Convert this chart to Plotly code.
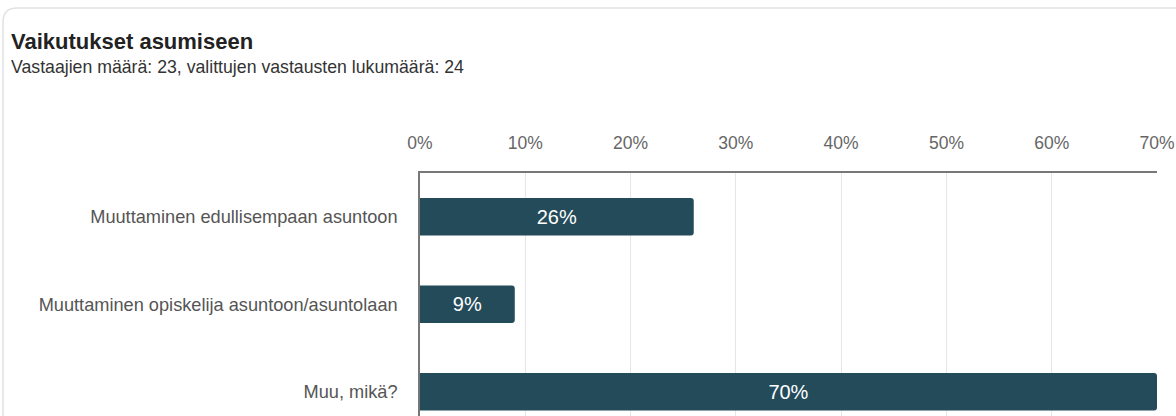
import plotly.graph_objects as go

categories = ["Muuttaminen edullisempaan asuntoon",
              "Muuttaminen opiskelija asuntoon/asuntolaan",
              "Muu, mikä?"]
values = [26, 9, 70]
bar_labels = ["26%", "9%", "70%"]
tick_vals = [0, 10, 20, 30, 40, 50, 60, 70]
tick_text = ["0%", "10%", "20%", "30%", "40%", "50%", "60%", "70%"]
title_text = "Vaikutukset asumiseen"
subtitle_text = "Vastaajien määrä: 23, valittujen vastausten lukumäärä: 24"

W, H = 1176, 416
# target pixel positions in the screenshot
PL, PR, PT = 420, 1157, 173
ML, MR, MT, MB = PL, W - PR, PT, 0
PW, PH = W - ML - MR, H - MT - MB
FONT = "Liberation Sans, Arial, sans-serif"

def px(x):
    return (x - ML) / PW

def py(y):
    return (H - MB - y) / PH

band = 87.5
fig = go.Figure(go.Bar(
    x=values, y=categories, orientation="h",
    marker=dict(color="#234b5a", line=dict(width=0)),
    width=0.43,
    text=bar_labels, textposition="inside", insidetextanchor="middle",
    textfont=dict(color="white", size=20, family=FONT),
    hoverinfo="skip",
))

fig.update_layout(
    width=W, height=H,
    margin=dict(l=ML, r=MR, t=MT, b=MB, pad=0),
    paper_bgcolor="white", plot_bgcolor="white",
    barcornerradius=3,
    showlegend=False,
    font=dict(family=FONT),
    xaxis=dict(range=[0, 70], side="top", tickvals=tick_vals, ticktext=tick_text,
               showgrid=True, gridcolor="#e6e6e6", gridwidth=1,
               zeroline=False, showline=True, linecolor="#777777", linewidth=1.5,
               ticks="", ticklabelstandoff=15,
               tickfont=dict(size=17.5, color="#666666", family=FONT), fixedrange=True),
    yaxis=dict(categoryorder="array", categoryarray=categories,
               range=[-0.5 + PH / band, -0.5],
               showgrid=False, zeroline=False, showline=True, linecolor="#777777",
               linewidth=1.5, ticks="", ticklabelstandoff=17,
               tickfont=dict(size=18.2, color="#555555", family=FONT), fixedrange=True),
    annotations=[
        dict(text="<b>" + title_text + "</b>", xref="paper", yref="paper",
             x=px(9), y=py(42), xanchor="left", yanchor="middle", showarrow=False,
             font=dict(size=22, color="#222222", family=FONT)),
        dict(text=subtitle_text, xref="paper", yref="paper",
             x=px(9), y=py(67), xanchor="left", yanchor="middle", showarrow=False,
             font=dict(size=17.7, color="#333333", family=FONT)),
    ],
    shapes=[
        dict(type="path", xref="paper", yref="paper",
             path=f"M {px(3)} {py(430)} L {px(3)} {py(22)} Q {px(3)} {py(8)} {px(17)} {py(8)} L {px(1190)} {py(8)}",
             line=dict(color="#e2e2e2", width=1.5), layer="below"),
    ],
)

fig.write_html("out.html", config={"displayModeBar": False},
               post_script="document.body.style.margin='0';document.body.style.overflow='hidden';"
                           "document.documentElement.style.overflow='hidden';")
